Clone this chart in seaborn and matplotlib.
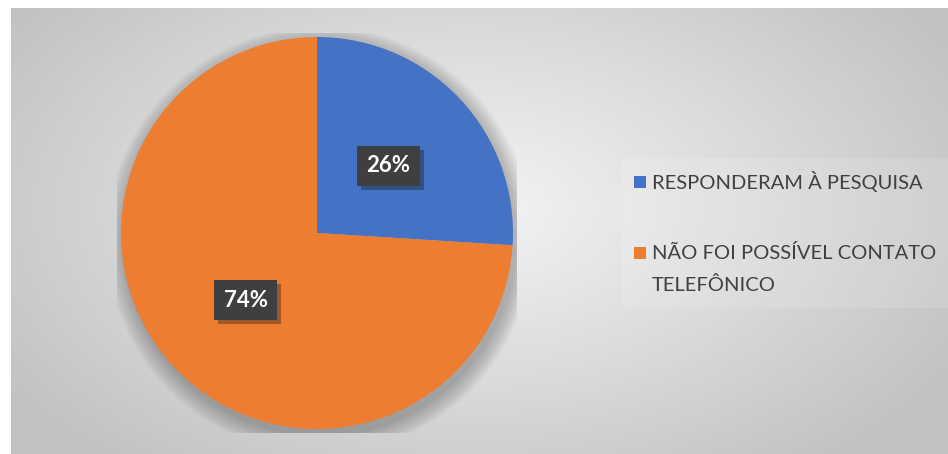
import numpy as np
import matplotlib
matplotlib.use('Agg')
import matplotlib.pyplot as plt
import matplotlib.patheffects as pe
from matplotlib.colors import LinearSegmentedColormap
import seaborn as sns

# data
categories = ['RESPONDERAM À PESQUISA', 'NÃO FOI POSSÍVEL CONTATO\nTELEFÔNICO']
values = [26, 74]
colors = ['#4472C4', '#ED7D31']

sns.set_style('white')
plt.rcParams['font.family'] = ['Lato', 'DejaVu Sans']

W, H = 948, 454
fig = plt.figure(figsize=(W / 100, H / 100), dpi=100)
fig.patch.set_facecolor('white')

# gray radial-gradient chart area
bg = fig.add_axes([11 / W, 0, (W - 11) / W, (H - 8) / H])
yy, xx = np.mgrid[0:446, 0:937]
d = np.sqrt(((xx - 460) / 560.0) ** 2 + ((yy - 200) / 330.0) ** 2)
cmap = LinearSegmentedColormap.from_list('g', ['#f4f4f4', '#dcdcdc', '#c2c2c2'])
bg.imshow(d, cmap=cmap, vmin=0, vmax=1.0, aspect='auto', interpolation='bilinear')
bg.axis('off')

# legend background
fig.patches.append(plt.Rectangle((622 / W, (H - 308) / H), (W - 622) / W, 150 / H,
                                 transform=fig.transFigure, facecolor='white', alpha=0.12,
                                 edgecolor='none'))

# pie axes: center (317, 233), radius 196 px
half = 200
ax = fig.add_axes([(317 - half) / W, (H - 233 - half) / H, 2 * half / W, 2 * half / H])

# soft shadow
for i in range(16):
    ax.add_patch(plt.Circle((0.015, -0.035), 1.0 + 0.006 * i, color='black',
                            alpha=0.015, lw=0, zorder=0))

wedges, texts, autotexts = ax.pie(values, colors=colors, startangle=90, counterclock=False,
                                  autopct='%1.0f%%', pctdistance=0.5,
                                  wedgeprops=dict(linewidth=0))
lim = half / 196
ax.set_xlim(-lim, lim)
ax.set_ylim(-lim, lim)
ax.set_aspect('equal')
ax.axis('off')

for t in autotexts:
    t.set_color('white')
    t.set_fontsize(16)
    t.set_fontweight('bold')
    t.set_bbox(dict(boxstyle='square,pad=0.42', facecolor='#3f3f3f', edgecolor='none'))
    t.get_bbox_patch().set_path_effects([pe.SimplePatchShadow(offset=(3, -3), alpha=0.35),
                                         pe.Normal()])

# legend, drawn by hand so the marker sits on the first line
entry_y = [182, 253]
for cat, c, y in zip(categories, colors, entry_y):
    fig.patches.append(plt.Rectangle((634 / W, (H - y - 6) / H), 12 / W, 12 / H,
                                     transform=fig.transFigure, facecolor=c, edgecolor='none'))
    for k, line in enumerate(cat.split('\n')):
        fig.text(652 / W, (H - y - 32 * k) / H, line, fontsize=14.5, color='#404040',
                 ha='left', va='center')

fig.savefig('out.png', dpi=100)
